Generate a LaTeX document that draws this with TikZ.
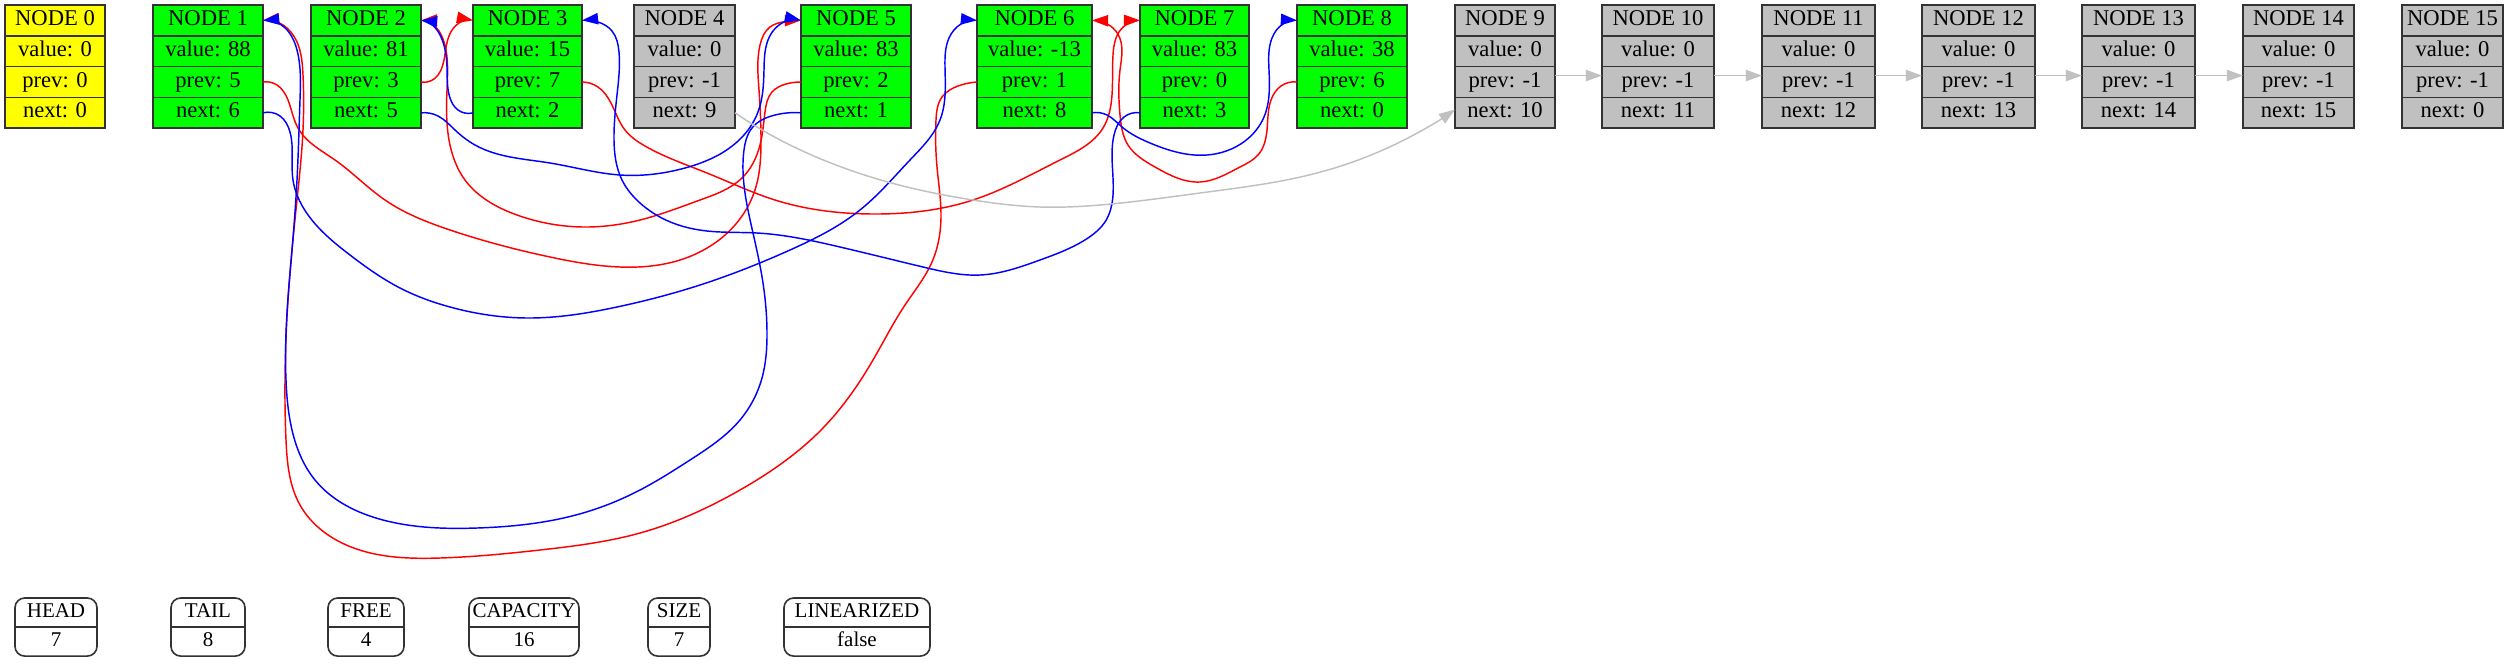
\documentclass[tikz,border=0pt]{standalone}
\usepackage{fontspec}
\setmainfont{Liberation Serif}
\usepackage{xcolor}
\usetikzlibrary{arrows.meta}
\usetikzlibrary{hobby}

\definecolor{freegray}{HTML}{C0C0C0}
\definecolor{usedgreen}{HTML}{00FF00}
\definecolor{zeroyellow}{HTML}{FFFF00}

\tikzset{
  cell/.style={draw=black!80, line width=1pt, inner sep=0pt, outer sep=0pt,
    minimum height=19.1pt, text height=9.6pt, text depth=3.2pt,
    font=\fontsize{14}{16}\selectfont},
  infocell/.style={inner sep=0pt, outer sep=0pt, minimum height=18pt,
    text height=9pt, text depth=3pt, font=\fontsize{13}{15}\selectfont},
  link/.style={line width=0.9pt, -{Triangle[length=10pt,width=7pt]}},
  prevlink/.style={link, red, use Hobby shortcut},
  nextlink/.style={link, blue, use Hobby shortcut},
  freelink/.style={link, freegray}
}

\begin{document}
\begin{tikzpicture}[x=0.62pt, y=-0.62pt]
\useasboundingbox (0,0) rectangle (2520,665);

% records of the array
\foreach \i/\x/\w/\c/\v/\p/\n in {
  0/5/100/zeroyellow/0/0/0,
  1/153/110/usedgreen/88/5/6,
  2/311/110/usedgreen/81/3/5,
  3/473/109/usedgreen/15/7/2,
  4/634/101/freegray/0/-1/9,
  5/801/110/usedgreen/83/2/1,
  6/977/115/usedgreen/-13/1/8,
  7/1140/109/usedgreen/83/0/3,
  8/1297/110/usedgreen/38/6/0,
  9/1455/100/freegray/0/-1/10,
  10/1602/112/freegray/0/-1/11,
  11/1762/113/freegray/0/-1/12,
  12/1922/113/freegray/0/-1/13,
  13/2082/113/freegray/0/-1/14,
  14/2243/111/freegray/0/-1/15,
  15/2402/101/freegray/0/-1/0}
{
  \node[cell, fill=\c, minimum width=\w*0.62pt, anchor=north west] (node\i) at (\x,5) {NODE \i};
  \node[cell, fill=\c, minimum width=\w*0.62pt, anchor=north] (val\i) at (node\i.south) {value: \v};
  \node[cell, fill=\c, minimum width=\w*0.62pt, anchor=north] (prev\i) at (val\i.south) {prev: \p};
  \node[cell, fill=\c, minimum width=\w*0.62pt, anchor=north] (next\i) at (prev\i.south) {next: \n};
}

% prev links
\draw[prevlink] (prev1.east) .. (277,85) .. (288,100) .. (298,128) .. (335,160) .. (385,200) .. (450,230) .. (550,257) .. (620,267) .. (680,260) .. (735,225) .. (755,190) .. (761,140) .. (759,90) .. (760,45) .. (770,27) .. (786,21.5) .. (node5.west);
\draw[prevlink] (prev2.east) .. (434,79) .. (444,60) .. (449,36) .. (459,23) .. (node3.west);
\draw[prevlink] (prev3.east) .. (598,87) .. (612,105) .. (625,130) .. (645,146) .. (707,173) .. (775,200) .. (873,214) .. (973,200) .. (1060,160) .. (1103,128) .. (1112,95) .. (1113,55) .. (1119,32) .. (1129,23) .. (node7.west);
\draw[prevlink] (prev5.west) .. (786,84) .. (772,92) .. (765,112) .. (760,145) .. (742,178) .. (700,200) .. (640,220) .. (583,227) .. (517,215) .. (465,180) .. (449,140) .. (447,90) .. (446,50) .. (439,31) .. (431,23) .. (node2.east);
\draw[prevlink] (prev6.west) .. (958,86) .. (942,97) .. (936,120) .. (937,167) .. (941,215) .. (932,262) .. (905,305) .. (873,360) .. (823,428) .. (740,490) .. (640,533) .. (540,550) .. (440,558) .. (340,542) .. (300,505) .. (286,440) .. (285,380) .. (288,300) .. (297,200) .. (303,130) .. (303,75) .. (297,42) .. (283,25) .. (node1.east);
\draw[prevlink] (prev8.west) .. (1281,86) .. (1271,100) .. (1267,130) .. (1258,155) .. (1240,167) .. (1200,182) .. (1155,167) .. (1128,145) .. (1120,115) .. (1120,70) .. (1121,42) .. (1113,28) .. (1102,22) .. (node6.east);

% next links
\draw[nextlink] (next1.east) .. (280,116) .. (290,132) .. (293,180) .. (306,212) .. (350,255) .. (400,288) .. (450,307) .. (527,318) .. (617,307) .. (700,285) .. (790,250) .. (860,210) .. (910,160) .. (940,120) .. (945,67) .. (949,38) .. (961,24) .. (node6.west);
\draw[nextlink] (next2.east) .. (438,116) .. (455,130) .. (475,145) .. (550,163) .. (620,175) .. (685,168) .. (737,142) .. (758,112) .. (764,70) .. (768,40) .. (779,25) .. (node5.west);
\draw[nextlink] (next3.west) .. (458,110) .. (450,98) .. (447,67) .. (441,37) .. (431,24) .. (node2.east);
\draw[nextlink] (next5.west) .. (775,115) .. (752,128) .. (744,150) .. (744,185) .. (753,233) .. (763,283) .. (767,333) .. (762,378) .. (740,420) .. (690,460) .. (640,490) .. (583,513) .. (477,528) .. (383,520) .. (315,480) .. (292,430) .. (286,380) .. (287,313) .. (292,250) .. (297,180) .. (300,100) .. (297,50) .. (284,27) .. (node1.east);
\draw[nextlink] (next6.east) .. (1107,115) .. (1122,127) .. (1150,143) .. (1207,155) .. (1245,141) .. (1264,117) .. (1269,70) .. (1272,38) .. (1283,24) .. (node8.west);
\draw[nextlink] (next7.west) .. (1124,117) .. (1114,135) .. (1113,195) .. (1105,222) .. (1088,238) .. (1040,260) .. (980,275) .. (923,267) .. (840,247) .. (757,233) .. (707,231) .. (668,221) .. (640,203) .. (622,180) .. (614,140) .. (617,95) .. (619,52) .. (612,31) .. (598,22) .. (node3.east);

% free list
\draw[freelink, use Hobby shortcut] (next4.east) .. (757,127) .. (807,153) .. (907,187) .. (973,200) .. (1040,207) .. (1100,205) .. (1200,193) .. (1317,173) .. (1400,142) .. ([yshift=2pt]next9.west);
\foreach \a/\b in {9/10, 10/11, 11/12, 12/13, 13/14}
  \draw[freelink] ([yshift=4pt]prev\a.east) -- ([yshift=4pt]prev\b.west);

% list info
\foreach \name/\x/\w/\val in {HEAD/15/82/7, TAIL/171/74/8, FREE/328/76/4, CAPACITY/469/110/16, SIZE/648/62/7, LINEARIZED/784/146/false}
{
  \node[infocell, minimum width=\w*0.62pt, anchor=north west] (info\name) at (\x,598) {\name};
  \node[infocell, minimum width=\w*0.62pt, anchor=north] (infoval\name) at (info\name.south) {\val};
  \draw[line width=1pt, black!80, rounded corners=6pt] (info\name.north west) rectangle (infoval\name.south east);
  \draw[line width=1pt, black!80] (info\name.south west) -- (info\name.south east);
}
\end{tikzpicture}
\end{document}
